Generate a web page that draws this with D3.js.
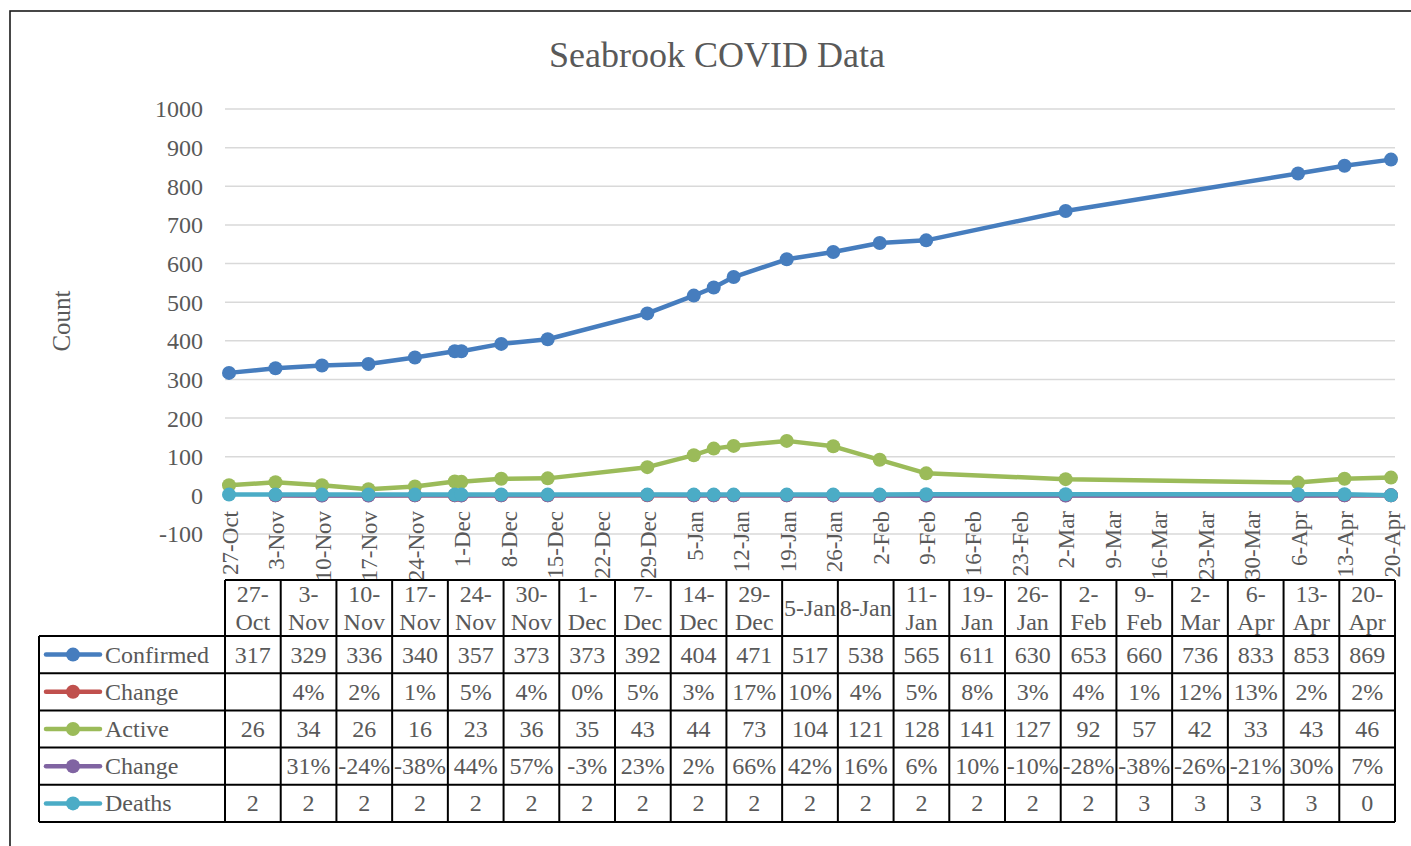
<!DOCTYPE html>
<html>
<head>
<meta charset="utf-8">
<script src="https://cdn.jsdelivr.net/npm/d3@7"></script>
<style>
  html, body { margin: 0; padding: 0; background: #fff; }
  svg { display: block; }
  text { font-family: "Liberation Serif", "Times New Roman", serif; fill: #595959; }
</style>
</head>
<body>
<svg id="chart" width="1411" height="846"></svg>
<script>
// ---------------- DATA ----------------
const dates = ["2020-10-27","2020-11-03","2020-11-10","2020-11-17","2020-11-24","2020-11-30","2020-12-01",
  "2020-12-07","2020-12-14","2020-12-29","2021-01-05","2021-01-08","2021-01-11","2021-01-19","2021-01-26",
  "2021-02-02","2021-02-09","2021-03-02","2021-04-06","2021-04-13","2021-04-20"];
const categories = ["27-Oct","3-Nov","10-Nov","17-Nov","24-Nov","30-Nov","1-Dec","7-Dec","14-Dec","29-Dec",
  "5-Jan","8-Jan","11-Jan","19-Jan","26-Jan","2-Feb","9-Feb","2-Mar","6-Apr","13-Apr","20-Apr"];
const confirmed = [317,329,336,340,357,373,373,392,404,471,517,538,565,611,630,653,660,736,833,853,869];
const confirmedChange = [null,0.04,0.02,0.01,0.05,0.04,0.00,0.05,0.03,0.17,0.10,0.04,0.05,0.08,0.03,0.04,0.01,0.12,0.13,0.02,0.02];
const active = [26,34,26,16,23,36,35,43,44,73,104,121,128,141,127,92,57,42,33,43,46];
const activeChange = [null,0.31,-0.24,-0.38,0.44,0.57,-0.03,0.23,0.02,0.66,0.42,0.16,0.06,0.10,-0.10,-0.28,-0.38,-0.26,-0.21,0.30,0.07];
const deaths = [2,2,2,2,2,2,2,2,2,2,2,2,2,2,2,2,3,3,3,3,0];
const yTicks = [-100,0,100,200,300,400,500,600,700,800,900,1000];
const axisStart = "2020-10-27", axisEnd = "2021-04-20";

const seriesNames = ["Confirmed","Change","Active","Change","Deaths"];
const seriesColors = ["#467DBE","#C0504D","#9BBB59","#8064A2","#4BACC6"];
const seriesValues = [confirmed, confirmedChange, active, activeChange, deaths];
const seriesIsPct = [false, true, false, true, false];

// ---------------- LAYOUT ----------------
const svg = d3.select("#chart");
const parse = d3.utcParse("%Y-%m-%d");
const plotL = 225, plotR = 1395, plotT = 109, plotB = 534;
const x = d3.scaleUtc().domain([parse(axisStart), parse(axisEnd)]).range([229, 1391]);
const y = d3.scaleLinear().domain([-100, 1000]).range([plotB, plotT]);

// chart frame
svg.append("rect").attr("x", 10).attr("y", 11).attr("width", 1430).attr("height", 860)
  .attr("fill", "none").attr("stroke", "#1a1a1a").attr("stroke-width", 1.6);

// title
svg.append("text").attr("x", 717).attr("y", 67).attr("text-anchor", "middle")
  .style("font-size", "36px").text("Seabrook COVID Data");

// y axis title
svg.append("text").attr("transform", "translate(70,321) rotate(-90)").attr("text-anchor", "middle")
  .style("font-size", "25px").text("Count");

// gridlines
svg.append("g").selectAll("line").data(yTicks).join("line")
  .attr("x1", plotL).attr("x2", plotR).attr("y1", d => y(d)).attr("y2", d => y(d))
  .attr("stroke", "#d9d9d9").attr("stroke-width", 1.5);

// y axis labels via d3 axis (ASCII hyphen-minus like the original)
const yAxis = svg.append("g").attr("transform", "translate(203,0)")
  .call(d3.axisLeft(y).tickValues(yTicks).tickSize(0).tickPadding(0).tickFormat(d => String(d)));
yAxis.select(".domain").remove();
yAxis.selectAll("text").style("font-size", "24px").attr("fill", "#595959")
  .attr("font-family", null).attr("dy", "0.33em");

// x axis labels (rotated), clipped at table top
svg.append("defs").append("clipPath").attr("id", "xclip")
  .append("rect").attr("x", 0).attr("y", 0).attr("width", 1411).attr("height", 580);
const xTicks = d3.utcTuesday.range(parse(axisStart), d3.utcDay.offset(parse(axisEnd), 1));
const fmt = d3.utcFormat("%-d-%b");
const xAxis = svg.append("g").attr("clip-path", "url(#xclip)").attr("transform", "translate(0,511)")
  .call(d3.axisBottom(x).tickValues(xTicks).tickSize(0).tickPadding(0).tickFormat(fmt));
xAxis.select(".domain").remove();
xAxis.selectAll("text").style("font-size", "23px").attr("fill", "#595959").attr("font-family", null)
  .attr("text-anchor", "end").attr("transform", "rotate(-90)").attr("x", 0).attr("y", 0).attr("dy", "0.36em");

// series lines + markers
const pts = seriesValues.map(vals => vals.map((v, i) => ({d: parse(dates[i]), v})));
const line = d3.line().defined(p => p.v !== null).x(p => x(p.d)).y(p => y(p.v));
const plot = svg.append("g");
pts.forEach((arr, si) => {
  const g = plot.append("g");
  g.append("path").datum(arr).attr("d", line).attr("fill", "none")
    .attr("stroke", seriesColors[si]).attr("stroke-width", 4.5).attr("stroke-linejoin", "round");
  g.selectAll("circle").data(arr.filter(p => p.v !== null)).join("circle")
    .attr("cx", p => x(p.d)).attr("cy", p => y(p.v)).attr("r", 7)
    .attr("fill", seriesColors[si]);
});

// ---------------- DATA TABLE ----------------
const tL = 39, tColStart = 225, tR = 1395, tTop = 580, hdrB = 636;
const colW = (tR - tColStart) / categories.length;
const rowH = (822 - hdrB) / seriesNames.length;
const table = svg.append("g");
const fs = 24;

// header labels
categories.forEach((c, i) => {
  const cx = tColStart + colW * (i + 0.5);
  const t = table.append("text").attr("x", cx).attr("text-anchor", "middle").style("font-size", fs + "px");
  t.text(c);
  const w = t.node().getComputedTextLength();
  if (w > colW - 2) {
    const k = c.indexOf("-");
    t.text(null);
    t.append("tspan").attr("x", cx).attr("y", 602).text(c.slice(0, k + 1));
    t.append("tspan").attr("x", cx).attr("y", 630).text(c.slice(k + 1));
  } else {
    t.attr("y", 616);
  }
});

// body rows
const pctFmt = v => Math.round(v * 100) + "%";
seriesNames.forEach((name, r) => {
  const top = hdrB + rowH * r;
  const base = top + rowH / 2 + 8;
  // legend key
  table.append("line").attr("x1", 46).attr("x2", 100).attr("y1", top + rowH / 2).attr("y2", top + rowH / 2)
    .attr("stroke", seriesColors[r]).attr("stroke-width", 4.5).attr("stroke-linecap", "round");
  table.append("circle").attr("cx", 73).attr("cy", top + rowH / 2).attr("r", 7).attr("fill", seriesColors[r]);
  table.append("text").attr("x", 105).attr("y", base).style("font-size", fs + "px").text(name);
  seriesValues[r].forEach((v, i) => {
    if (v === null) return;
    table.append("text").attr("x", tColStart + colW * (i + 0.5)).attr("y", base)
      .attr("text-anchor", "middle").style("font-size", fs + "px")
      .text(seriesIsPct[r] ? pctFmt(v) : v);
  });
});

// table grid lines
const gl = table.append("g").attr("stroke", "#000").attr("stroke-width", 2);
gl.append("line").attr("x1", tColStart).attr("x2", tR).attr("y1", tTop).attr("y2", tTop);
d3.range(seriesNames.length + 1).forEach(r => {
  const yy = hdrB + rowH * r;
  gl.append("line").attr("x1", tL).attr("x2", tR).attr("y1", yy).attr("y2", yy);
});
gl.append("line").attr("x1", tL).attr("x2", tL).attr("y1", hdrB).attr("y2", hdrB + rowH * seriesNames.length);
d3.range(categories.length + 1).forEach(i => {
  const xx = tColStart + colW * i;
  gl.append("line").attr("x1", xx).attr("x2", xx).attr("y1", tTop).attr("y2", hdrB + rowH * seriesNames.length);
});
</script>
</body>
</html>
